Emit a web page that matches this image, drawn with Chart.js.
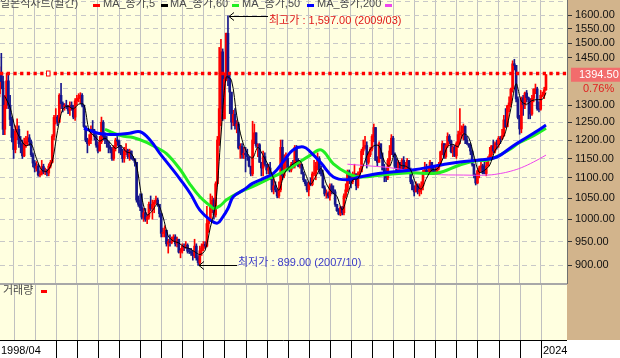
<!DOCTYPE html>
<html lang="ko">
<head>
<meta charset="utf-8">
<title>원달러 월간 차트</title>
<script src="https://cdn.jsdelivr.net/npm/chart.js@4.4.1/dist/chart.umd.min.js"></script>
<style>
  html, body { margin: 0; padding: 0; background: #fff; }
  canvas { display: block; }
</style>
</head>
<body>
<canvas id="chart" width="620" height="358"></canvas>
<script>
// 월봉 데이터 (0번 = 1998/04, 마지막 = 2024/04)
const firstLabel = '1998/04';
const prevClose = 1383; // 1998/03 종가 (첫 봉 시가)

const closes = [
  1335, 1395, 1373, 1230, 1300, 1375, 1300, 1258, 1207,                 // 1998
  1174, 1225, 1230, 1190, 1188, 1157, 1190, 1195, 1206, 1195, 1160, 1138, // 1999
  1125, 1130, 1107, 1110, 1129, 1115, 1117, 1112, 1130, 1140, 1210, 1264, // 2000
  1265, 1250, 1330, 1305, 1297, 1300, 1299, 1285, 1300, 1295, 1265, 1313, // 2001
  1320, 1322, 1330, 1300, 1238, 1200, 1190, 1200, 1230, 1225, 1210, 1186, // 2002
  1170, 1195, 1250, 1210, 1200, 1195, 1180, 1175, 1150, 1180, 1200, 1197, // 2003
  1180, 1170, 1150, 1170, 1172, 1155, 1170, 1150, 1148, 1140, 1045, 1035, // 2004
  1027, 1005, 1015, 1000, 1005, 1035, 1025, 1035, 1040, 1045, 1035, 1013, // 2005
  968, 970, 975, 945, 950, 948, 950, 960, 945, 955, 927, 930,             // 2006
  940, 938, 942, 929, 928, 925, 920, 940, 915, 905, 930, 936,             // 2007
  944, 940, 990, 1000, 1035, 1045, 1010, 1085, 1200, 1290, 1470, 1260,    // 2008
  1380, 1534, 1383, 1340, 1250, 1273, 1240, 1245, 1178, 1183, 1160, 1164, // 2009
  1160, 1155, 1130, 1110, 1200, 1220, 1185, 1187, 1140, 1125, 1155, 1135, // 2010
  1120, 1125, 1096, 1070, 1080, 1070, 1055, 1070, 1180, 1105, 1140, 1150, // 2011
  1125, 1120, 1135, 1130, 1180, 1145, 1130, 1134, 1110, 1095, 1085, 1070, // 2012
  1085, 1083, 1110, 1112, 1130, 1150, 1120, 1110, 1075, 1060, 1061, 1055, // 2013
  1080, 1070, 1065, 1035, 1020, 1012, 1027, 1015, 1055, 1070, 1115, 1099, // 2014
  1090, 1100, 1110, 1080, 1110, 1115, 1170, 1180, 1185, 1140, 1160, 1175, // 2015
  1210, 1235, 1145, 1140, 1190, 1150, 1120, 1115, 1100, 1145, 1170, 1205, // 2016
  1160, 1130, 1115, 1140, 1120, 1145, 1120, 1125, 1145, 1120, 1090, 1070, // 2017
  1065, 1080, 1065, 1070, 1080, 1115, 1120, 1110, 1112, 1140, 1120, 1115, // 2018
  1112, 1125, 1135, 1168, 1190, 1155, 1185, 1210, 1197, 1168, 1180, 1157, // 2019
  1190, 1215, 1220, 1222, 1238, 1200, 1190, 1185, 1170, 1135, 1106, 1087, // 2020
  1118, 1125, 1131, 1112, 1111, 1130, 1150, 1160, 1184, 1170, 1190, 1188, // 2021
  1205, 1203, 1212, 1257, 1237, 1298, 1307, 1350, 1430, 1425, 1319, 1264, // 2022
  1231, 1322, 1302, 1337, 1323, 1317, 1274, 1321, 1349, 1350, 1290, 1288, // 2023
  1330, 1331, 1347, 1394.5                                                // 2024
];

const highs = [
  1415, 1420, 1465, 1390, 1330, 1400, 1400, 1330, 1265,
  1230, 1240, 1260, 1240, 1210, 1200, 1205, 1210, 1225, 1215, 1200, 1165,
  1145, 1142, 1135, 1118, 1145, 1135, 1125, 1122, 1136, 1145, 1215, 1270,
  1290, 1270, 1335, 1367, 1310, 1305, 1315, 1300, 1310, 1310, 1300, 1320,
  1330, 1335, 1338, 1335, 1300, 1240, 1205, 1215, 1240, 1255, 1230, 1215,
  1195, 1210, 1265, 1255, 1220, 1210, 1195, 1185, 1180, 1185, 1205, 1210,
  1200, 1185, 1175, 1180, 1190, 1175, 1175, 1170, 1155, 1150, 1140, 1055,
  1060, 1060, 1025, 1025, 1010, 1040, 1055, 1045, 1045, 1055, 1050, 1035,
  1013, 980, 985, 975, 955, 965, 960, 965, 965, 960, 955, 935,
  945, 945, 950, 945, 935, 935, 930, 955, 945, 920, 940, 945,
  950, 950, 1030, 1002, 1060, 1055, 1050, 1090, 1210, 1485, 1513, 1480,
  1400, 1535, 1597, 1400, 1330, 1285, 1290, 1255, 1250, 1190, 1190, 1180,
  1180, 1175, 1150, 1125, 1253, 1245, 1220, 1190, 1190, 1140, 1170, 1165,
  1130, 1135, 1140, 1100, 1100, 1090, 1070, 1090, 1200, 1200, 1160, 1165,
  1160, 1130, 1140, 1145, 1185, 1185, 1150, 1140, 1135, 1115, 1095, 1090,
  1090, 1100, 1115, 1145, 1140, 1165, 1155, 1130, 1120, 1080, 1070, 1065,
  1085, 1085, 1080, 1070, 1035, 1025, 1030, 1030, 1060, 1085, 1120, 1120,
  1105, 1115, 1135, 1110, 1115, 1125, 1175, 1200, 1210, 1195, 1165, 1180,
  1215, 1245, 1235, 1155, 1195, 1185, 1165, 1135, 1125, 1150, 1185, 1215,
  1210, 1165, 1150, 1145, 1140, 1150, 1155, 1140, 1150, 1145, 1125, 1095,
  1080, 1090, 1085, 1085, 1090, 1120, 1140, 1135, 1130, 1145, 1140, 1130,
  1130, 1130, 1140, 1170, 1197, 1190, 1190, 1220, 1215, 1200, 1185, 1185,
  1195, 1225, 1290, 1240, 1245, 1240, 1210, 1190, 1190, 1170, 1135, 1110,
  1120, 1130, 1140, 1135, 1140, 1140, 1155, 1180, 1185, 1200, 1195, 1200,
  1210, 1210, 1230, 1270, 1290, 1300, 1325, 1352, 1440, 1445, 1425, 1325,
  1270, 1325, 1330, 1340, 1345, 1325, 1320, 1330, 1350, 1365, 1355, 1310,
  1345, 1340, 1355, 1395
];

const lows = [
  1325, 1325, 1350, 1215, 1215, 1290, 1290, 1240, 1195,
  1150, 1165, 1200, 1180, 1165, 1150, 1155, 1180, 1185, 1185, 1155, 1128,
  1115, 1117, 1104, 1103, 1107, 1110, 1108, 1105, 1105, 1125, 1138, 1200,
  1245, 1240, 1250, 1290, 1280, 1285, 1290, 1275, 1270, 1285, 1260, 1255,
  1300, 1310, 1305, 1295, 1235, 1195, 1165, 1185, 1190, 1220, 1200, 1180,
  1165, 1170, 1190, 1200, 1190, 1180, 1165, 1165, 1145, 1145, 1170, 1185,
  1165, 1160, 1140, 1140, 1160, 1150, 1145, 1148, 1145, 1130, 1040, 1030,
  1020, 1000, 995, 995, 990, 1000, 1020, 1000, 1015, 1035, 1030, 1005,
  960, 960, 960, 940, 925, 940, 945, 950, 940, 938, 925, 915,
  925, 930, 935, 925, 924, 920, 910, 915, 910, 899, 900, 920,
  930, 935, 938, 970, 995, 1015, 1000, 1005, 1085, 1185, 1240, 1255,
  1260, 1375, 1360, 1275, 1230, 1240, 1230, 1220, 1175, 1150, 1150, 1150,
  1115, 1145, 1128, 1105, 1105, 1190, 1180, 1155, 1140, 1105, 1105, 1130,
  1110, 1110, 1095, 1065, 1060, 1065, 1050, 1050, 1065, 1095, 1100, 1120,
  1120, 1115, 1115, 1125, 1125, 1140, 1128, 1125, 1110, 1090, 1080, 1065,
  1055, 1080, 1080, 1105, 1095, 1120, 1110, 1105, 1075, 1055, 1050, 1050,
  1045, 1060, 1060, 1030, 1018, 1010, 1008, 1010, 1010, 1050, 1065, 1085,
  1075, 1085, 1100, 1070, 1075, 1100, 1120, 1160, 1175, 1125, 1135, 1155,
  1170, 1195, 1145, 1130, 1140, 1150, 1120, 1090, 1090, 1095, 1130, 1160,
  1155, 1125, 1110, 1110, 1115, 1120, 1115, 1115, 1120, 1120, 1085, 1070,
  1055, 1065, 1060, 1055, 1060, 1070, 1110, 1110, 1110, 1110, 1115, 1110,
  1110, 1110, 1120, 1130, 1160, 1150, 1150, 1180, 1190, 1165, 1155, 1155,
  1150, 1180, 1190, 1205, 1200, 1190, 1188, 1180, 1160, 1130, 1100, 1082,
  1085, 1100, 1115, 1110, 1110, 1105, 1130, 1145, 1155, 1165, 1165, 1175,
  1180, 1190, 1200, 1210, 1235, 1240, 1280, 1295, 1340, 1410, 1310, 1260,
  1216, 1220, 1270, 1290, 1310, 1260, 1260, 1270, 1310, 1335, 1285, 1280,
  1285, 1325, 1320, 1345
];

// 이동평균선 (차트에서 읽은 값, [월 번호] / [값])
const ma5Start = 4, ma5Step = 3;
const ma5Values = [
  1327, 1293, 1233, 1202, 1184, 1189, 1150, 1120, 1117, 1142,
  1226, 1289, 1297, 1289, 1303, 1302, 1226, 1211, 1197, 1205,
  1192, 1177, 1185, 1168, 1163, 1131, 1050, 1010, 1020, 1036,
  1006, 962, 951, 947, 938, 935, 928, 922, 931, 982,
  1035, 1211, 1387, 1377, 1270, 1201, 1164, 1151, 1180, 1158,
  1132, 1098, 1069, 1110, 1128, 1138, 1144, 1111, 1084, 1104,
  1124, 1085, 1065, 1054, 1022, 1056, 1095, 1098, 1131, 1167,
  1184, 1184, 1143, 1130, 1162, 1133, 1130, 1120, 1085, 1072,
  1099, 1120, 1122, 1146, 1182, 1188, 1182, 1217, 1207, 1157,
  1114, 1119, 1133, 1171, 1191, 1223, 1290, 1366, 1312, 1303,
  1314, 1317, 1318, 1338
];

const ma50Months = [49, 57, 67, 75, 81, 87, 92, 98, 104, 110, 115, 121, 125, 128, 131, 134, 140, 145, 151, 157, 163, 168, 174, 178, 184, 191, 199, 206, 219, 236, 252, 263, 274, 284, 293, 301, 306, 312];
const ma50Values = [1233, 1219, 1215, 1219, 1223, 1198, 1165, 1130, 1095, 1058, 1021, 998, 991, 1005, 1025, 1053, 1070, 1086, 1098, 1112, 1145, 1173, 1181, 1167, 1138, 1102, 1095, 1102, 1112, 1120, 1133, 1141, 1146, 1154, 1183, 1207, 1222, 1242];

const ma60Months = [61, 70, 77, 85, 90, 96, 104, 109, 115, 121, 123, 127, 130, 138, 145, 153, 161, 168, 178, 184, 191, 199, 206, 220, 235, 250, 263, 272, 279, 286, 292, 297, 305, 312];
const ma60Values = [1230, 1212, 1207, 1193, 1180, 1163, 1120, 1086, 1053, 1031, 1025, 1033, 1045, 1065, 1078, 1095, 1112, 1130, 1159, 1173, 1136, 1112, 1102, 1108, 1113, 1112, 1133, 1144, 1146, 1160, 1176, 1193, 1212, 1233];

const ma200Months = [199, 213, 223, 236, 248, 265, 279, 286, 292, 298, 305, 312];
const ma200Values = [1135, 1130, 1126, 1117, 1109, 1107, 1107, 1111, 1117, 1126, 1141, 1159];

// 축 눈금
const yTicks = [900, 950, 1000, 1050, 1100, 1150, 1200, 1250, 1300, 1350, 1400, 1450, 1500, 1550, 1600, 1650];
const hiddenTickLabels = [1350, 1400, 1650];
const januaryMonths = [9, 21, 33, 45, 57, 69, 81, 93, 105, 117, 129, 141, 153, 165, 177, 189, 201, 213, 225, 237, 249, 261, 273, 285, 297, 309];
const lastYearLabel = '2024';

// 표시 정보
const lastPrice = 1394.5;
const changePct = '0.76%';
const highInfo = { month: 131, value: 1597, text: '최고가 : 1,597.00 (2009/03)' };
const lowInfo = { month: 114, value: 899, text: '최저가 : 899.00 (2007/10)' };
const legendItems = [
  { text: '일본석차트(월간)', x: 0, dash: '#ff0000', dashX: 93 },
  { text: 'MA_종가,5', x: 103, dash: '#000000', dashX: 161 },
  { text: 'MA_종가,60', x: 170, dash: '#22ee22', dashX: 232 },
  { text: 'MA_종가,50', x: 242, dash: '#0000ff', dashX: 307 },
  { text: 'MA_종가,200', x: 317, dash: '#ee44ee', dashX: 385 }
];

const RED = '#ff0000';
const NAVY = '#16168c';
const CREAM = '#ffffe0';
const TAN = '#d2b48c';
const FONT = '"Liberation Sans", "Noto Sans CJK KR", sans-serif';

// 봉 데이터 구성 (시가 = 전월 종가)
const opens = closes.map((c, i) => (i === 0 ? prevClose : closes[i - 1]));
const candleColors = closes.map((c, i) => (c >= opens[i] ? RED : NAVY));
const wickData = closes.map((c, i) => ({ x: i, y: [lows[i], highs[i]] }));
const bodyData = closes.map((c, i) => ({ x: i, y: [Math.min(opens[i], c), Math.max(opens[i], c)] }));

const toPoints = (months, values) => values.map((v, i) => ({ x: months[i], y: v }));
const ma5Months = ma5Values.map((v, i) => (i === ma5Values.length - 1 ? closes.length - 1 : ma5Start + i * ma5Step));

const hts = {
  id: 'hts',
  beforeDraw(chart) {
    const { ctx, width, height, chartArea } = chart;
    const right = chartArea.right, bottom = chartArea.bottom;
    ctx.save();
    ctx.fillStyle = '#ffffff';
    ctx.fillRect(0, 0, width, height);
    ctx.fillStyle = CREAM;
    ctx.fillRect(0, 0, right, bottom);
    ctx.fillRect(0, bottom + 2, right, 340 - bottom - 2);
    ctx.fillStyle = TAN;
    ctx.fillRect(right, 0, width - right, 340);
    ctx.fillStyle = '#a8a8a8';
    ctx.fillRect(0, bottom, right, 2);
    ctx.restore();
  },
  afterDatasetsDraw(chart) {
    const { ctx, chartArea } = chart;
    const xs = chart.scales.x, ys = chart.scales.y;
    ctx.save();

    // 현재가 점선
    const py = Math.round(ys.getPixelForValue(lastPrice)) - 1.5;
    ctx.strokeStyle = RED;
    ctx.lineWidth = 3.3;
    ctx.setLineDash([3.3, 3.4]);
    ctx.beginPath();
    ctx.moveTo(chartArea.left, py);
    ctx.lineTo(chartArea.right, py);
    ctx.stroke();
    ctx.setLineDash([]);
    ctx.fillStyle = '#ffffff';
    ctx.fillRect(46, py - 2.5, 4, 5);
    ctx.lineWidth = 1;
    ctx.strokeRect(46.5, py - 2.5, 3.5, 5);

    // 최고가 / 최저가 표시
    ctx.strokeStyle = '#000000';
    ctx.lineWidth = 1;
    ctx.font = '11px ' + FONT;
    ctx.textBaseline = 'middle';
    const marks = [
      { info: highInfo, color: '#e01818', len: 39, dy: 4 },
      { info: lowInfo, color: '#3a3ac8', len: 38, dy: -3 }
    ];
    marks.forEach(m => {
      const x0 = Math.round(xs.getPixelForValue(m.info.month)) + 1;
      const y0 = Math.round(ys.getPixelForValue(m.info.value)) + 0.5;
      ctx.beginPath();
      ctx.moveTo(x0, y0);
      ctx.lineTo(x0 + m.len, y0);
      ctx.moveTo(x0 + 5, y0 - 4);
      ctx.lineTo(x0, y0);
      ctx.lineTo(x0 + 5, y0 + 4);
      ctx.stroke();
      ctx.fillStyle = m.color;
      ctx.fillText(m.info.text, x0 + m.len + 1, y0 + m.dy);
    });
    ctx.restore();
  },
  afterDraw(chart) {
    const { ctx, chartArea, width } = chart;
    const xs = chart.scales.x, ys = chart.scales.y;
    const right = chartArea.right;
    ctx.save();

    // 상단 범례
    ctx.font = '11px ' + FONT;
    ctx.textBaseline = 'middle';
    legendItems.forEach(item => {
      ctx.fillStyle = '#4a4a4a';
      ctx.fillText(item.text, item.x, 4);
      ctx.fillStyle = item.dash;
      ctx.fillRect(item.dashX, 4, 7, 3);
    });

    // 거래량 패널
    const volTop = chartArea.bottom + 2;
    ctx.strokeStyle = '#c0c0c0';
    ctx.lineWidth = 1;
    januaryMonths.forEach(m => {
      const x = Math.round(xs.getPixelForValue(m)) + 0.5;
      ctx.beginPath();
      ctx.moveTo(x, volTop);
      ctx.lineTo(x, 340);
      ctx.stroke();
    });
    ctx.fillStyle = '#4a4a4a';
    ctx.fillText('거래량', 3, 291);
    ctx.fillStyle = RED;
    ctx.fillRect(41, 290, 6, 3);

    // 하단 날짜 축
    ctx.strokeStyle = '#000000';
    ctx.beginPath();
    ctx.moveTo(0, 340.5);
    ctx.lineTo(right, 340.5);
    januaryMonths.forEach(m => {
      const x = Math.round(xs.getPixelForValue(m)) + 0.5;
      ctx.moveTo(x, 340);
      ctx.lineTo(x, 358);
    });
    ctx.stroke();
    ctx.fillStyle = '#ffffff';
    ctx.fillRect(0, 341, 43, 17);
    const lastX = Math.round(xs.getPixelForValue(januaryMonths[januaryMonths.length - 1])) + 1;
    ctx.fillRect(lastX, 341, 26, 17);
    ctx.fillStyle = '#000000';
    ctx.fillText(firstLabel, 1, 351);
    ctx.fillText(lastYearLabel, lastX + 1, 351);

    // 현재가 박스
    const py = ys.getPixelForValue(lastPrice);
    ctx.fillStyle = '#f26c6c';
    ctx.fillRect(right + 4, py - 7, width - right - 4, 14);
    ctx.fillStyle = '#ffffff';
    ctx.font = '11px ' + FONT;
    ctx.fillText(lastPrice.toFixed(2), right + 12, py);
    ctx.fillStyle = '#e02020';
    ctx.fillText(changePct, right + 16, py + 14);
    ctx.restore();
  }
};

const ctx = document.getElementById('chart').getContext('2d');
new Chart(ctx, {
  type: 'bar',
  data: {
    datasets: [
      { type: 'line', label: 'MA_종가,5', data: toPoints(ma5Months, ma5Values), borderColor: '#000000', borderWidth: 1, pointRadius: 0, tension: 0.3, order: 1 },
      { type: 'line', label: 'MA_종가,50', data: toPoints(ma50Months, ma50Values), borderColor: '#0000ff', borderWidth: 3, pointRadius: 0, tension: 0.4, order: 2 },
      { type: 'line', label: 'MA_종가,60', data: toPoints(ma60Months, ma60Values), borderColor: '#22ee22', borderWidth: 3, pointRadius: 0, tension: 0.4, order: 3 },
      { type: 'line', label: 'MA_종가,200', data: toPoints(ma200Months, ma200Values), borderColor: '#ee44ee', borderWidth: 1, pointRadius: 0, tension: 0.4, order: 4 },
      { label: '몸통', data: bodyData, backgroundColor: candleColors, barThickness: 2, grouped: false, order: 5 },
      { label: '꼬리', data: wickData, backgroundColor: candleColors, barThickness: 1, grouped: false, order: 6 }
    ]
  },
  options: {
    responsive: false,
    animation: false,
    devicePixelRatio: 1,
    events: [],
    layout: { padding: { left: 0, top: 0, right: 0, bottom: 75 } },
    plugins: { legend: { display: false }, tooltip: { enabled: false } },
    scales: {
      x: {
        type: 'linear',
        min: 1.25,
        max: 323.96,
        offset: false,
        afterBuildTicks: s => { s.ticks = januaryMonths.map(v => ({ value: v })); },
        afterFit: s => { s.height = 0; s.paddingLeft = 0; s.paddingRight = 0; },
        ticks: { display: false },
        grid: { color: '#c2c2c2', drawTicks: false, offset: false },
        border: { display: false }
      },
      y: {
        type: 'logarithmic',
        position: 'right',
        min: 863.5,
        max: 1656.2,
        afterBuildTicks: s => { s.ticks = yTicks.map(v => ({ value: v })); },
        afterFit: s => { s.width = 53; s.paddingTop = 0; s.paddingBottom = 0; },
        ticks: {
          font: { family: FONT, size: 11 },
          color: '#111111',
          padding: 3,
          callback: v => (hiddenTickLabels.includes(v) ? '' : Number(v).toFixed(2))
        },
        grid: {
          color: '#c8c8c8',
          tickLength: 5,
          tickColor: c => (c.tick && hiddenTickLabels.includes(c.tick.value) ? 'rgba(0,0,0,0)' : '#333333')
        },
        border: { display: true, color: '#707070', dash: [5, 4] }
      }
    }
  },
  plugins: [hts]
});
</script>
</body>
</html>
